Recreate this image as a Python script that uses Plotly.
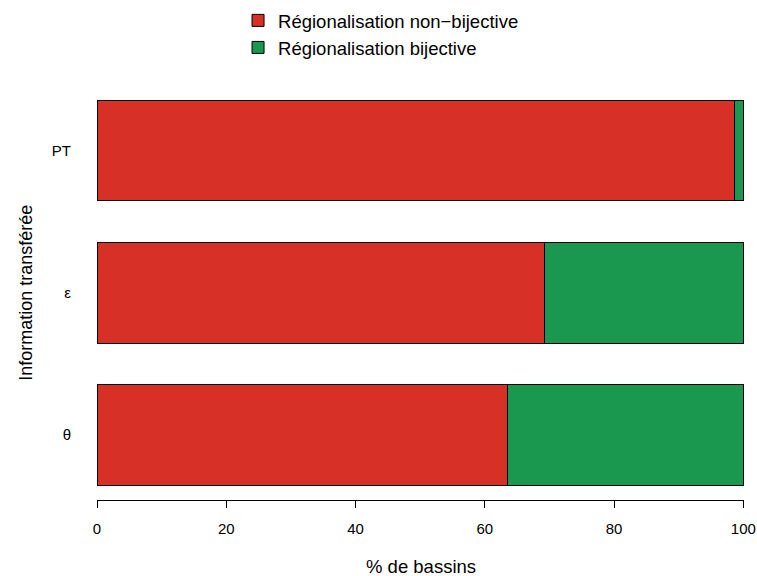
import plotly.graph_objects as go

categories = ["θ", "ε", "PT"]
non_bijective = [63.5, 69.3, 98.7]
bijective = [100 - v for v in non_bijective]
series_names = ["Régionalisation non\u2212bijective", "Régionalisation bijective"]
colors = ["#D73027", "#1A9850"]
x_ticks = [0, 20, 40, 60, 80, 100]

fig = go.Figure()
for name, vals, col in zip(series_names, [non_bijective, bijective], colors):
    fig.add_trace(go.Bar(
        y=categories, x=vals, orientation="h", name=name,
        marker=dict(color=col, line=dict(color="black", width=1)),
    ))

font = "Liberation Sans, Arial, sans-serif"
fig.update_layout(
    barmode="stack",
    bargap=0.289,
    width=757, height=576,
    margin=dict(l=97, r=13, t=90, b=76, autoexpand=False),
    paper_bgcolor="white", plot_bgcolor="white",
    font=dict(family=font, color="black", size=15),
    xaxis=dict(
        range=[0, 100.1], tickvals=x_ticks, ticktext=[str(t) for t in x_ticks],
        showline=True, linecolor="black", linewidth=1,
        ticks="outside", ticklen=7, tickcolor="black",
        showgrid=False, zeroline=False, automargin=False,
        ticklabelstandoff=8,
        tickfont=dict(size=15),
    ),
    yaxis=dict(
        range=[-0.461, 2.426], showline=False, showgrid=False, zeroline=False,
        ticks="", ticklabelstandoff=25, automargin=False,
        tickfont=dict(size=15),
    ),
    legend=dict(
        x=0.218, y=1.215, xanchor="left", yanchor="top",
        orientation="v", font=dict(size=18.5), traceorder="normal",
        bgcolor="rgba(0,0,0,0)", tracegroupgap=0,
    ),
    annotations=[
        dict(text="% de bassins", xref="paper", yref="paper", x=0.5, y=-0.163,
             xanchor="center", yanchor="middle", showarrow=False, font=dict(size=18.5)),
        dict(text="Information transférée", xref="paper", yref="paper", x=-0.111, y=0.506,
             xanchor="center", yanchor="middle", showarrow=False, textangle=-90,
             font=dict(size=18)),
    ],
)

fig.write_html(
    "out.html",
    config={"displayModeBar": False},
    post_script="document.body.style.margin='0';document.body.style.overflow='hidden';",
)
